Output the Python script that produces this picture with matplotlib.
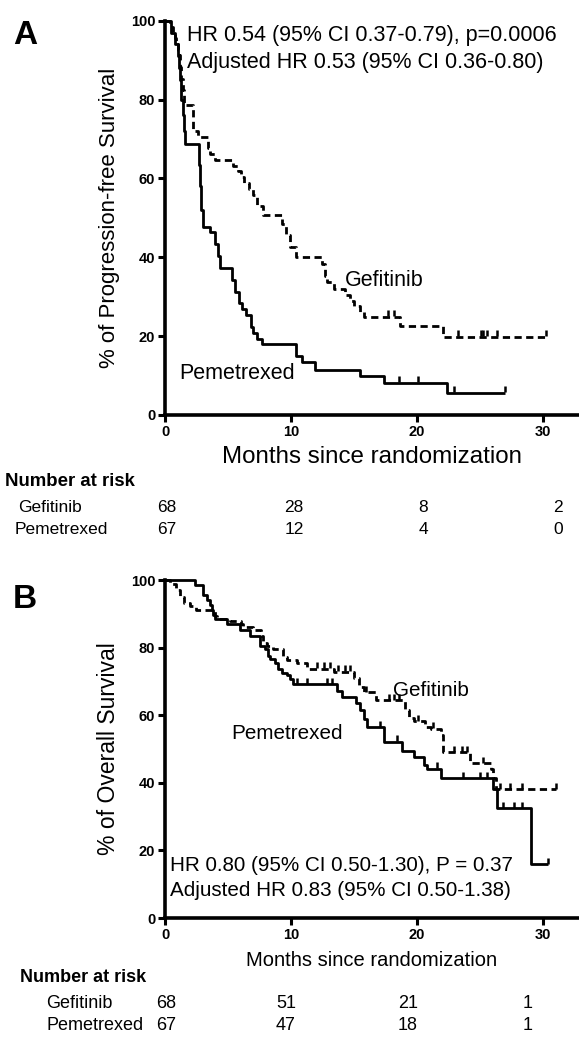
import numpy as np
import matplotlib
matplotlib.use('Agg')
import matplotlib.pyplot as plt

plt.rcParams['font.family'] = ['Liberation Sans', 'DejaVu Sans']

# ---- panel A: progression-free survival (months, %)
pfs_gef_t = [0, 0.4, 0.6, 0.8, 0.9, 1.0, 1.1, 1.2, 1.3, 1.4, 1.5, 2.25, 2.6, 3.4, 3.6, 4.0,
             5.4, 5.8, 6.0, 6.3, 6.7, 7.0, 7.3, 7.8, 9.3, 9.6, 9.9, 10.4, 12.5, 12.7, 12.9,
             13.4, 14.3, 14.7, 15.0, 15.5, 15.8, 18.7, 22.1]
pfs_gef_s = [100, 98.5, 97, 95.6, 94.1, 92.6, 91.2, 88.2, 85.3, 82.4, 78.5, 72.1, 70.6, 67.6,
             66.2, 64.7, 63.2, 61.8, 60.3, 58.8, 57.4, 55.9, 52.9, 50.7, 48.5, 45.6, 42.6, 40.0,
             38.2, 35.3, 33.8, 32.0, 30.5, 29.0, 27.6, 26.2, 24.8, 22.6, 19.8]
pfs_gef_end = 30.3
pfs_gef_cens = [17.7, 18.2, 23.3, 25.1, 25.3, 25.6, 26.4, 30.3]

pfs_pem_t = [0, 0.5, 0.8, 1.0, 1.1, 1.2, 1.3, 1.4, 1.5, 1.6, 2.7, 2.8, 2.9, 3.0, 3.6, 4.0, 4.2,
             4.4, 5.3, 5.6, 5.9, 6.1, 6.4, 6.8, 7.0, 7.3, 7.7, 10.4, 10.9, 11.9, 15.5, 17.4, 22.4]
pfs_pem_s = [100, 97, 94, 91, 88, 85, 80, 76, 72, 68.7, 63.5, 58, 52, 47.8, 46.3, 43.3, 40.3,
             37.3, 34.3, 31.3, 28.4, 26.9, 25.4, 22.4, 20.9, 19.4, 17.9, 14.9, 13.4, 11.5, 9.8,
             8.2, 5.7]
pfs_pem_end = 27.0
pfs_pem_cens = [18.6, 20.1, 23.0, 27.0]

# ---- panel B: overall survival (months, %)
os_gef_t = [0, 0.4, 0.9, 1.2, 1.5, 2.0, 2.5, 4.0, 4.1, 5.2, 6.0, 6.2, 7.0, 7.6, 7.8, 8.1, 8.6,
            9.4, 9.7, 10.5, 11.3, 13.4, 15.0, 15.4, 15.8, 16.8, 19.1, 19.4, 19.8, 20.7, 21.1,
            21.9, 22.1, 24.2, 25.9, 26.1, 26.3]
os_gef_s = [100, 98.8, 96.9, 95.0, 93.1, 92.2, 91.0, 89.4, 88.4, 88.0, 87.0, 86.1, 85.1, 83.3,
            81.4, 80.4, 79.5, 77.1, 76.2, 75.3, 73.8, 72.9, 71.0, 68.2, 66.8, 64.4, 61.6, 59.3,
            58.3, 56.4, 56.0, 54.0, 49.0, 45.8, 44.2, 41.4, 38.1]
os_gef_end = 31.1
os_gef_cens = [12.1, 12.6, 13.1, 13.75, 14.3, 14.7, 16.0, 17.8, 18.2, 18.6, 20.1, 21.3,
               22.95, 23.6, 24.0, 25.3, 26.6, 27.4, 28.4, 31.1]

os_pem_t = [0, 2.4, 3.05, 3.3, 3.6, 3.7, 3.8, 4.0, 4.9, 5.97, 6.76, 7.56, 7.96, 8.22, 8.35,
            8.75, 9.0, 9.28, 9.68, 9.94, 10.2, 13.65, 14.05, 15.15, 15.5, 15.8, 16.05, 17.4,
            18.8, 19.75, 20.55, 20.8, 21.9, 26.1, 26.4, 29.05]
os_pem_s = [100, 98.5, 95.6, 94.1, 92.6, 91.2, 89.7, 88.4, 87.0, 85.1, 83.3, 80.4, 79.5, 77.6,
            76.7, 75.3, 73.8, 72.4, 72.0, 70.6, 69.1, 67.3, 65.4, 63.5, 61.6, 58.8, 56.4, 52.2,
            49.4, 47.5, 45.2, 44.2, 41.4, 38.1, 32.5, 16.0]
os_pem_end = 30.4
os_pem_cens = [10.5, 11.3, 12.9, 13.3, 17.1, 18.4, 21.6, 23.7, 25.05, 25.6, 26.9, 27.7,
               28.4, 30.4]

# ---- number at risk
risk_times = [0, 10, 20, 30]
risk_a_gef = [68, 28, 8, 2]
risk_a_pem = [67, 12, 4, 0]
risk_b_gef = [68, 51, 21, 1]
risk_b_pem = [67, 47, 18, 1]

W, H = 579, 1037
fig = plt.figure(figsize=(W / 100, H / 100), dpi=100)


def fx(px):
    return px / W


def fy(py):
    return 1 - py / H


def level_at(t, s, x):
    i = np.searchsorted(t, x, side='right') - 1
    return s[max(i, 0)]


def km(ax, t, s, end, cens, ls):
    tt = list(t) + [end]
    ss = list(s) + [s[-1]]
    ax.step(tt, ss, where='post', color='black', lw=2.0, linestyle=ls,
            clip_on=False, solid_capstyle='butt', dash_capstyle='butt')
    lv = [level_at(t, s, c) for c in cens]
    ax.plot(cens, np.array(lv) + 1.0, linestyle='none', marker='|', ms=5,
            mew=1.8, color='black', clip_on=False)


def style_axes(ax):
    for sp in ['top', 'right']:
        ax.spines[sp].set_visible(False)
    for sp in ['left', 'bottom']:
        ax.spines[sp].set_linewidth(2.6)
    ax.set_xlim(0, 32.9)
    ax.set_ylim(0, 100)
    ax.set_xticks([0, 10, 20, 30])
    ax.set_yticks([0, 20, 40, 60, 80, 100])
    ax.tick_params(direction='out', length=5, width=2.2, labelsize=10.5, pad=2)
    for lab in ax.get_xticklabels() + ax.get_yticklabels():
        lab.set_fontweight('bold')


dash = (0, (2.6, 1.6))

# panel A
axA = fig.add_axes([fx(165), fy(415), fx(579) - fx(165), fy(20.7) - fy(415)])
style_axes(axA)
km(axA, pfs_gef_t, pfs_gef_s, pfs_gef_end, pfs_gef_cens, dash)
km(axA, pfs_pem_t, pfs_pem_s, pfs_pem_end, pfs_pem_cens, '-')
axA.set_ylabel('% of Progression-free Survival', fontsize=16, labelpad=8)
axA.set_xlabel('Months since randomization', fontsize=17.4, labelpad=5)
axA.text(1.75, 96.3, 'HR 0.54 (95% CI 0.37-0.79), p=0.0006', fontsize=15.5, va='center')
axA.text(1.75, 89.5, 'Adjusted HR 0.53 (95% CI 0.36-0.80)', fontsize=15.5, va='center')
axA.text(14.3, 34.2, 'Gefitinib', fontsize=15.5, va='center')
axA.text(1.1, 10.6, 'Pemetrexed', fontsize=15.5, va='center')

# panel B
axB = fig.add_axes([fx(165), fy(918), fx(579) - fx(165), fy(580) - fy(918)])
style_axes(axB)
km(axB, os_gef_t, os_gef_s, os_gef_end, os_gef_cens, dash)
km(axB, os_pem_t, os_pem_s, os_pem_end, os_pem_cens, '-')
axB.set_ylabel('% of Overall Survival', fontsize=16.5, labelpad=8)
axB.set_xlabel('Months since randomization', fontsize=14.5, labelpad=7)
axB.text(0.4, 15.5, 'HR 0.80 (95% CI 0.50-1.30), P = 0.37', fontsize=14.9, va='center')
axB.text(0.4, 8.0, 'Adjusted HR 0.83 (95% CI 0.50-1.38)', fontsize=14.9, va='center')
axB.text(18.1, 67.3, 'Gefitinib', fontsize=14.9, va='center')
axB.text(5.3, 54.6, 'Pemetrexed', fontsize=14.9, va='center')

# panel letters
fig.text(fx(25), fy(35), 'A', fontsize=24, fontweight='bold', ha='center', va='center')
fig.text(fx(25), fy(600), 'B', fontsize=24, fontweight='bold', ha='center', va='center')

# number at risk tables
colA = [167, 294, 423, 558]
fig.text(fx(5), fy(482), 'Number at risk', fontsize=13.4, fontweight='bold', va='center')
fig.text(fx(18), fy(507), 'Gefitinib', fontsize=12.5, va='center')
fig.text(fx(15), fy(529), 'Pemetrexed', fontsize=12.5, va='center')
for x, a, b in zip(colA, risk_a_gef, risk_a_pem):
    fig.text(fx(x), fy(507), str(a), fontsize=12.5, ha='center', va='center')
    fig.text(fx(x), fy(529), str(b), fontsize=12.5, ha='center', va='center')

colB = [166, 286, 408, 528]
fig.text(fx(20), fy(977), 'Number at risk', fontsize=13, fontweight='bold', va='center')
fig.text(fx(46), fy(1004), 'Gefitinib', fontsize=13, va='center')
fig.text(fx(46), fy(1026), 'Pemetrexed', fontsize=13, va='center')
for x, a, b in zip(colB, risk_b_gef, risk_b_pem):
    fig.text(fx(x), fy(1004), str(a), fontsize=13, ha='center', va='center')
    fig.text(fx(x), fy(1026), str(b), fontsize=13, ha='center', va='center')

fig.savefig('out.png', dpi=100)
